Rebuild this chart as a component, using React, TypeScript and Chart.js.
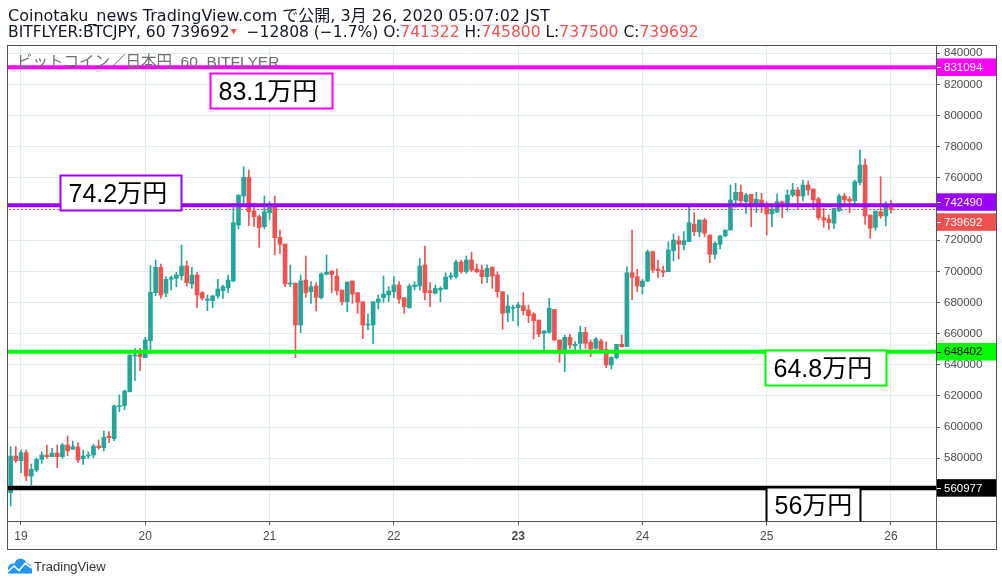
import React, { useEffect, useRef } from 'react';
import { Chart, registerables } from 'chart.js';

Chart.register(...registerables);

// ---------- DATA ----------
// hour offset (relative to 19日 00:00) of the first hourly candle
const startHour = -2;

const opens = [
  557900, 581470, 578450, 583590, 568630, 572480, 579350, 582110, 581020, 583390,
  581020, 588530, 585770, 587250, 579730, 581470, 582110, 587890, 586800, 594310,
  592580, 613120, 613760, 622750, 645670, 646950, 644580, 655490, 686310, 702610,
  685920, 694910, 695550, 697220, 703450, 691890, 697670, 686310, 681430, 681170,
  684190, 687590, 689520, 693820, 729770, 748390, 760390, 738760, 735100, 728680,
  737670, 742610, 721870, 717570, 691890, 692340, 665570, 694460, 686950, 690610,
  683100, 698120, 700240, 697030, 688040, 680530, 693820, 686310, 680530, 665570,
  665570, 680140, 683100, 684830, 686950, 691250, 683100, 676680, 690160, 690610,
  704090, 687590, 685920, 688040, 688680, 696190, 696580, 706020, 699790, 707300,
  701520, 700880, 696580, 702610, 697670, 686950, 673470, 676290, 676680, 677960,
  675200, 672630, 668780, 660240, 660880, 675650, 655940, 647400, 657670, 652280,
  653820, 660880, 654460, 650610, 655300, 649970, 639890, 644580, 653180, 651640,
  699150, 696580, 690160, 693820, 712630, 701520, 700430, 699790, 713270, 719690,
  717070, 719050, 730410, 725280, 732980, 723350, 710960, 717380, 722900, 726560,
  745820, 750760, 744730, 749480, 741520, 745820, 741520, 736830, 737920, 744730,
  741520, 749030, 752240, 748390, 755450, 752880, 746460, 734460, 733620, 730860,
  738950, 748390, 746460, 745370, 756930, 768290, 736190, 728290, 738310, 735550,
  741322,
];
const highs = [
  587440, 587440, 585320, 585320, 576330, 580180, 584230, 588530, 586410, 588530,
  589620, 594310, 591100, 590010, 585320, 584040, 589170, 591740, 597520, 597070,
  614210, 620630, 623840, 646500, 650610, 650610, 657670, 703640, 707300, 704730,
  696580, 697030, 699400, 716930, 706660, 702610, 699150, 686950, 684830, 684830,
  694910, 691250, 697670, 743700, 749030, 767200, 765080, 743700, 736190, 748390,
  744730, 748390, 726560, 717570, 704090, 692730, 697670, 709870, 693370, 692730,
  699150, 710510, 700240, 701520, 688040, 693180, 693820, 686310, 680530, 672630,
  680530, 684830, 697030, 690160, 696580, 693370, 683100, 691890, 693370, 708390,
  716290, 692730, 691250, 690160, 699150, 699150, 707300, 707300, 709870, 712240,
  704730, 704090, 704090, 702990, 699790, 686950, 684830, 678410, 680140, 686310,
  678410, 673470, 668780, 661910, 682710, 675650, 655940, 659150, 659600, 654850,
  664930, 664090, 655940, 657420, 656580, 654850, 645220, 653180, 659150, 702990,
  726560, 701330, 694910, 713720, 713080, 707300, 703450, 719050, 723990, 722710,
  725470, 741130, 737670, 732980, 734070, 723350, 719050, 723350, 726560, 755450,
  756540, 755450, 750120, 749480, 750760, 750120, 744730, 742610, 749670, 745180,
  752240, 756540, 753970, 758660, 758020, 752880, 747550, 740490, 736190, 740490,
  749480, 750120, 747940, 758660, 777920, 772140, 736190, 738760, 760780, 744730,
  745800,
];
const lows = [
  549370, 577170, 570750, 565610, 562850, 571390, 576780, 579990, 581020, 573960,
  579990, 581660, 585770, 577170, 576140, 579990, 580380, 585770, 584680, 590010,
  591290, 609910, 611190, 622500, 629810, 636230, 644580, 649070, 684380, 682710,
  683740, 688040, 690160, 694460, 690610, 689130, 676680, 681620, 674750, 676680,
  682710, 682710, 686310, 693370, 727200, 742610, 729320, 728680, 715450, 727200,
  732980, 710510, 711600, 690160, 690160, 644580, 660630, 683350, 679500, 674560,
  682260, 697670, 686310, 684830, 678410, 674110, 679500, 673080, 656780, 662360,
  653570, 675840, 680140, 680530, 683190, 679500, 673080, 676290, 688040, 688040,
  681620, 677320, 685470, 680530, 688490, 694910, 695550, 698760, 698760, 699790,
  699150, 692340, 692730, 689130, 683350, 662810, 667690, 668140, 664930, 671990,
  667050, 656580, 658060, 649070, 660240, 655490, 641620, 635590, 650610, 647400,
  647400, 650610, 645220, 649970, 648880, 638160, 637320, 643740, 651250, 651640,
  681620, 686950, 685470, 693370, 699150, 695940, 696580, 699790, 706850, 707940,
  713720, 719050, 722900, 722260, 722260, 705570, 707940, 714360, 722260, 726560,
  741130, 741520, 737280, 728680, 737670, 737670, 723350, 728680, 737670, 734460,
  738760, 747940, 739850, 745180, 749030, 739850, 732980, 728290, 727010, 727650,
  738310, 742610, 737670, 741520, 755450, 730220, 721230, 726560, 734070, 729130,
  737500,
];
const closes = [
  581470, 578450, 583590, 568630, 572930, 579350, 582110, 581020, 583390, 581020,
  588530, 584870, 587440, 578900, 581470, 582110, 587890, 586800, 593470, 593220,
  613570, 613570, 623200, 646310, 646310, 645220, 655940, 686560, 702610, 684830,
  694910, 695940, 697670, 703450, 692730, 697670, 684830, 682710, 682260, 684190,
  688680, 690160, 694460, 731250, 749030, 760390, 738310, 735100, 728040, 738310,
  742610, 721620, 717380, 691890, 692340, 665570, 693820, 686310, 690160, 683350,
  698310, 699600, 697860, 687590, 680530, 693180, 685470, 680140, 665570, 666020,
  680530, 682260, 685470, 687400, 691250, 682260, 677320, 690610, 691250, 703450,
  686310, 686310, 689130, 689130, 696390, 697220, 706020, 699790, 707300, 700880,
  699790, 696580, 701970, 697030, 686950, 673080, 677770, 676680, 678410, 674750,
  671540, 668330, 659790, 661720, 676290, 655940, 647400, 657670, 652730, 653180,
  660880, 653820, 650160, 656580, 649520, 639890, 644830, 653180, 651640, 699150,
  696190, 690610, 693820, 712630, 700880, 700430, 699400, 713720, 720140, 717380,
  719690, 731250, 725470, 732980, 724440, 710960, 718020, 722710, 726560, 745820,
  750760, 745370, 749030, 741520, 746270, 741520, 736830, 740040, 744730, 743700,
  749030, 752240, 748390, 755450, 752240, 745820, 734460, 732980, 731250, 740490,
  748390, 745820, 745180, 757570, 768290, 735550, 727650, 738760, 735550, 741970,
  739692,
];

const dayTicks = [0, 24, 48, 72, 96, 120, 144, 168];
const dayLabels = ['19', '20', '21', '22', '23', '24', '25', '26'];
const boldDayLabel = '23';

const priceTicks = [560000, 580000, 600000, 620000, 640000, 660000, 680000, 700000, 720000, 740000, 760000, 780000, 800000, 820000, 840000];
const hiddenPriceTicks = [560000, 740000];

const levelValues = [831094, 742490, 648402, 560977];
const levelNotes = ['83.1万円', '74.2万円', '64.8万円', '56万円'];
const lastPrice = 739692;

const headerLine1 = 'Coinotaku_news TradingView.com で公開, 3月 26, 2020 05:07:02 JST';
const symbolText = 'BITFLYER:BTCJPY, 60 739692';
const changeText = '−12808 (−1.7%)';
const ohlcLabels = ['O:', 'H:', 'L:', 'C:'];
const ohlcValues = ['741322', '745800', '737500', '739692'];
const paneTitle = 'ビットコイン／日本円, 60, BITFLYER';
const brandText = 'TradingView';

// ---------- STYLE / LAYOUT ----------
const FONT = '"Liberation Sans", "Noto Sans CJK JP", Arial, sans-serif';
const HEAD_FONT = '"DejaVu Sans", "Noto Sans CJK JP", sans-serif';
const UP = '#26a69a';
const DOWN = '#ef5350';
const GRID = '#e1ecf2';
const FRAME = '#50535e';
const TEXT = '#131722';
const AXIS_TEXT = '#4a4a4a';
const levelColors = ['#ff00ff', '#9900ff', '#00ff00', '#000000'];
const levelTextColors = ['#ffffff', '#ffffff', '#000000', '#ffffff'];
const levelWidths = [4, 4, 4, 4.5];
// note boxes: x range in hours, top offset in px from the level line
const noteLayout = [
  { x0: 36.5, x1: 60.0, dy: 6 },
  { x0: 7.5, x1: 30.9, dy: -30 },
  { x0: 143.7, x1: 167.0, dy: -2 },
  { x0: 143.9, x1: 162.0, dy: -1 },
];
const X_MIN = -2.703;
const X_MAX = 176.69;
const Y_MIN = 539740;
const Y_MAX = 845330;

const overlayPlugin = {
  id: 'tvOverlay',
  beforeDraw(chart: any) {
    const ctx = chart.ctx;
    ctx.save();
    ctx.fillStyle = '#ffffff';
    ctx.fillRect(0, 0, chart.width, chart.height);
    ctx.restore();
  },
  afterDatasetsDraw(chart: any) {
    const ctx = chart.ctx;
    const { x, y } = chart.scales;
    const area = chart.chartArea;
    ctx.save();
    // pane title
    ctx.font = `15.5px ${FONT}`;
    ctx.fillStyle = '#6f6f6f';
    ctx.textBaseline = 'alphabetic';
    ctx.textAlign = 'left';
    ctx.fillText(paneTitle, 17, 66.5);

    // note boxes
    ctx.beginPath();
    ctx.rect(area.left, area.top, area.right - area.left, area.bottom - area.top);
    ctx.clip();
    levelNotes.forEach((note, i) => {
      const lay = noteLayout[i];
      const ly = y.getPixelForValue(levelValues[i]);
      const top = Math.round(ly + lay.dy) + 0.5;
      const x0 = Math.round(x.getPixelForValue(lay.x0)) + 0.5;
      const x1 = Math.round(x.getPixelForValue(lay.x1)) + 0.5;
      const h = 35;
      ctx.fillStyle = '#ffffff';
      ctx.fillRect(x0, top, x1 - x0, h);
      ctx.strokeStyle = levelColors[i];
      ctx.lineWidth = 2;
      ctx.strokeRect(x0, top, x1 - x0, h);
      ctx.fillStyle = '#000000';
      ctx.font = `25px ${FONT}`;
      ctx.fillText(note, x0 + 8, top + 26.5);
    });
    ctx.restore();
  },
  afterDraw(chart: any) {
    const ctx = chart.ctx;
    const { y } = chart.scales;
    const area = chart.chartArea;
    ctx.save();

    // frame
    ctx.strokeStyle = FRAME;
    ctx.lineWidth = 1;
    ctx.strokeRect(7.5, 45.5, 989, 504);
    ctx.beginPath();
    ctx.moveTo(area.right + 0.5, 45);
    ctx.lineTo(area.right + 0.5, 550);
    ctx.moveTo(7, area.bottom + 0.5);
    ctx.lineTo(997, area.bottom + 0.5);
    ctx.stroke();

    // price labels on the right axis
    const items = [
      { v: levelValues[0], bg: levelColors[0], fg: levelTextColors[0] },
      { v: levelValues[1], bg: levelColors[1], fg: levelTextColors[1] },
      { v: lastPrice, bg: DOWN, fg: '#ffffff' },
      { v: levelValues[2], bg: levelColors[2], fg: levelTextColors[2] },
      { v: levelValues[3], bg: levelColors[3], fg: levelTextColors[3] },
    ].map((it) => ({ ...it, cy: y.getPixelForValue(it.v) }));
    items.sort((a, b) => a.cy - b.cy);
    const H = 17.5;
    const GAP = 20;
    for (let i = 1; i < items.length; i++) {
      const d = items[i].cy - items[i - 1].cy;
      if (d < GAP) {
        const need = GAP - d;
        items[i - 1].cy -= need * 0.2;
        items[i].cy += need * 0.8;
      }
    }
    ctx.font = `11.5px ${FONT}`;
    ctx.textBaseline = 'middle';
    ctx.textAlign = 'left';
    items.forEach((it) => {
      ctx.fillStyle = it.bg;
      ctx.fillRect(area.right + 1, it.cy - H / 2, 996 - area.right - 1, H);
      ctx.strokeStyle = it.fg;
      ctx.lineWidth = 1;
      ctx.beginPath();
      ctx.moveTo(area.right + 1, Math.round(it.cy) + 0.5);
      ctx.lineTo(area.right + 5, Math.round(it.cy) + 0.5);
      ctx.stroke();
      ctx.fillStyle = it.fg;
      ctx.fillText(String(it.v), area.right + 8, it.cy + 0.5);
    });

    // header
    ctx.textBaseline = 'alphabetic';
    ctx.font = `16px ${HEAD_FONT}`;
    ctx.fillStyle = TEXT;
    ctx.fillText(headerLine1, 8, 20.5);
    ctx.font = `15.5px ${HEAD_FONT}`;
    let cx = 8;
    const by = 37;
    const put = (t: string, color: string) => {
      ctx.fillStyle = color;
      ctx.fillText(t, cx, by);
      cx += ctx.measureText(t).width;
    };
    put(symbolText, TEXT);
    ctx.fillStyle = DOWN;
    ctx.beginPath();
    ctx.moveTo(cx + 1, 29);
    ctx.lineTo(cx + 7, 29);
    ctx.lineTo(cx + 4, 34.5);
    ctx.closePath();
    ctx.fill();
    cx += 12;
    put(' ' + changeText, TEXT);
    ohlcLabels.forEach((l, i) => {
      put(' ' + l, TEXT);
      put(ohlcValues[i], DOWN);
    });

    // footer logo
    ctx.fillStyle = '#2196f3';
    ctx.beginPath();
    ctx.arc(13, 568.5, 5, 0, Math.PI * 2);
    ctx.arc(20.5, 564.5, 6, 0, Math.PI * 2);
    ctx.arc(27, 568.5, 5, 0, Math.PI * 2);
    ctx.fill();
    ctx.fillRect(8, 568, 24, 5.5);
    ctx.strokeStyle = '#ffffff';
    ctx.lineWidth = 1.6;
    ctx.beginPath();
    ctx.moveTo(8, 571.5);
    ctx.lineTo(14, 566);
    ctx.lineTo(19, 570.5);
    ctx.lineTo(25, 563.5);
    ctx.lineTo(32, 568);
    ctx.stroke();
    ctx.font = `13px ${FONT}`;
    ctx.fillStyle = '#333333';
    ctx.fillText(brandText, 34, 571);

    ctx.restore();
  },
};

export default function App() {
  const ref = useRef<HTMLCanvasElement>(null);

  useEffect(() => {
    const canvas = ref.current;
    if (!canvas) return;

    const candleColors = opens.map((o, i) => (closes[i] >= o ? UP : DOWN));
    const bodies = opens.map((o, i) => ({ x: startHour + i, y: [o, closes[i]] }));
    const wicks = lows.map((l, i) => ({ x: startHour + i, y: [l, highs[i]] }));

    const levelSets: any[] = levelValues.map((v, i) => ({
      type: 'line',
      data: [
        { x: X_MIN - 5, y: v },
        { x: X_MAX + 5, y: v },
      ],
      borderColor: levelColors[i],
      borderWidth: levelWidths[i],
      pointRadius: 0,
      fill: false,
      clip: 0,
    }));

    const lastSet: any = {
      type: 'line',
      data: [
        { x: X_MIN - 5, y: lastPrice },
        { x: X_MAX + 5, y: lastPrice },
      ],
      borderColor: DOWN,
      borderWidth: 1,
      borderDash: [2, 2],
      pointRadius: 0,
      fill: false,
      clip: 0,
    };

    const chart = new Chart(canvas, {
      type: 'bar',
      data: {
        datasets: [
          ...levelSets,
          lastSet,
          {
            type: 'bar',
            data: bodies as any,
            backgroundColor: candleColors,
            borderWidth: 0,
            barThickness: 4,
            minBarLength: 1,
            grouped: false,
          } as any,
          {
            type: 'bar',
            data: wicks as any,
            backgroundColor: candleColors,
            borderWidth: 0,
            barThickness: 1,
            grouped: false,
          } as any,
        ],
      },
      options: {
        animation: false,
        responsive: false,
        maintainAspectRatio: false,
        events: [],
        layout: { padding: { left: 7, top: 45, right: 6, bottom: 37 } },
        plugins: {
          legend: { display: false },
          tooltip: { enabled: false },
        },
        scales: {
          x: {
            type: 'linear',
            position: 'bottom',
            min: X_MIN,
            max: X_MAX,
            offset: false,
            grid: {
              offset: false,
              color: GRID,
              tickColor: FRAME,
              tickLength: 4,
              drawTicks: true,
            },
            border: { display: true, color: FRAME },
            ticks: {
              autoSkip: false,
              maxRotation: 0,
              minRotation: 0,
              padding: 4,
              color: AXIS_TEXT,
              font: (ctx: any) => ({
                family: FONT,
                size: 12,
                weight: dayLabels[ctx.index] === boldDayLabel ? 'bold' : 'normal',
              }),
              callback: (_v: any, i: number) => dayLabels[i],
            },
            afterBuildTicks: (scale: any) => {
              scale.ticks = dayTicks.map((v) => ({ value: v }));
            },
            afterFit: (scale: any) => {
              scale.height = 28;
            },
          } as any,
          y: {
            type: 'linear',
            position: 'right',
            min: Y_MIN,
            max: Y_MAX,
            grid: {
              color: GRID,
              tickColor: FRAME,
              tickLength: 4,
              drawTicks: true,
            },
            border: { display: true, color: FRAME },
            ticks: {
              padding: 4,
              color: AXIS_TEXT,
              font: { family: FONT, size: 11.5 },
              callback: (v: any) => (hiddenPriceTicks.includes(Number(v)) ? '' : String(v)),
            },
            afterBuildTicks: (scale: any) => {
              scale.ticks = priceTicks.map((v) => ({ value: v }));
            },
            afterFit: (scale: any) => {
              scale.width = 60;
            },
          } as any,
        },
      } as any,
      plugins: [overlayPlugin],
    });

    return () => chart.destroy();
  }, []);

  return (
    <div style={{ position: 'fixed', left: 0, top: 0, width: 1002, height: 586, background: '#ffffff' }}>
      <canvas ref={ref} width={1002} height={586} style={{ display: 'block', width: 1002, height: 586 }} />
    </div>
  );
}
